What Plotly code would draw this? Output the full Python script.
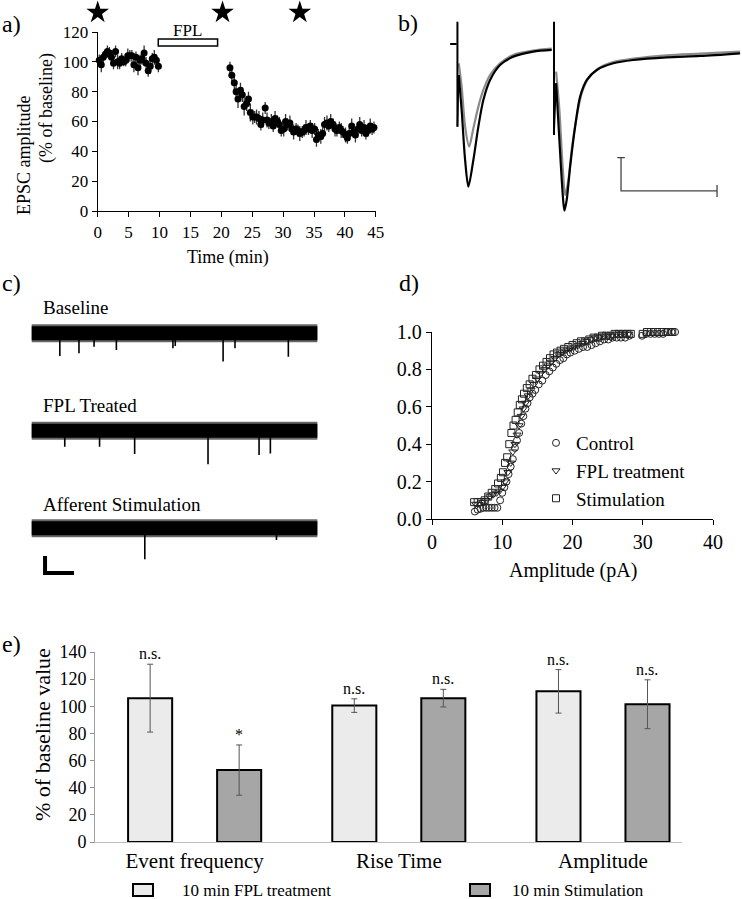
import plotly.graph_objects as go

W, H = 742, 899
FONT = "Liberation Serif, Times New Roman, serif"


def px(x):
    return x / W


def py(y):
    return 1 - y / H


# ---------------- Panel a: EPSC amplitude time course ----------------
base_time = [0.25, 0.58, 0.91, 1.24, 1.57, 1.9, 2.23, 2.56, 2.89, 3.22, 3.55, 3.88, 4.21, 4.54, 4.87,
             5.2, 5.53, 5.86, 6.19, 6.52, 6.85, 7.18, 7.51, 7.84, 8.17, 8.5, 8.83, 9.16, 9.49, 9.82]
base_amp = [101, 98, 103, 105, 107, 106, 103, 99, 107, 100, 99, 102, 100, 101, 104,
            104, 104, 98, 103, 96, 101, 102, 106, 99, 94, 97, 102, 103, 101, 97]
base_err = [4, 5, 4, 3, 4, 4, 5, 4, 4, 5, 4, 4, 3, 4, 5, 4, 4, 5, 4, 5, 4, 4, 5, 4, 4, 5, 4, 5, 4, 4]

post_time = [21.4, 21.7, 22.1, 22.4, 22.7, 23.1, 23.4, 23.7, 24.1, 24.4, 24.7, 25.1, 25.4, 25.7, 26.1,
             26.4, 26.7, 27.1, 27.4, 27.7, 28.1, 28.4, 28.7, 29.1, 29.4, 29.7, 30.1, 30.4, 30.7, 31.1,
             31.4, 31.7, 32.1, 32.4, 32.7, 33.1, 33.4, 33.7, 34.1, 34.4, 34.7, 35.1, 35.4, 35.7, 36.1,
             36.4, 36.7, 37.1, 37.4, 37.7, 38.1, 38.4, 38.7, 39.1, 39.4, 39.7, 40.1, 40.4, 40.7, 41.1,
             41.4, 41.7, 42.1, 42.4, 42.7, 43.1, 43.4, 43.7, 44.1, 44.4, 44.7]
post_amp = [96, 91, 86, 80, 75, 81, 78, 70, 72, 75, 66, 63, 63, 63, 62,
            58, 61, 69, 61, 59, 60, 57, 62, 60, 58, 54, 55, 60, 58, 59,
            55, 53, 55, 54, 52, 53, 54, 56, 55, 57, 54, 55, 48, 51, 50,
            52, 58, 59, 57, 60, 58, 55, 54, 56, 54, 53, 51, 49, 52, 57,
            53, 51, 55, 58, 54, 56, 52, 54, 57, 55, 56]
post_err = [4, 4, 5, 5, 6, 5, 5, 6, 5, 5, 6, 5, 4, 5, 5, 4, 5, 4, 5, 4,
            5, 4, 5, 4, 5, 4, 5, 5, 4, 5, 4, 5, 4, 4, 5, 4, 4, 5, 4, 4,
            5, 4, 5, 4, 5, 4, 5, 5, 4, 5, 4, 5, 4, 4, 5, 4, 5, 4, 4, 5,
            4, 5, 4, 5, 4, 5, 4, 4, 5, 4, 4]
star_times = [0, 20.2, 32.7]
fpl_period = [9.8, 19.4]

# ---------------- Panel b: paired-pulse EPSC traces (ms, pA) ----------------
pre_t = [-3.6, -0.2]
pre_i = [0, 0]
artifact_t = [0.2, 50.5]
artifact_top = [67, 67]
artifact_bottom = [-248, -273]
b1_t = [0.9, 2.4, 4.2, 5.9, 8.5, 11.1, 13.7, 17.2, 22.4, 29.3, 39.7, 49.3]
b1_i = [-93, -198, -348, -428, -348, -248, -168, -108, -63, -38, -23, -18]
b2_t = [51.6, 53.3, 55.0, 55.9, 57.1, 58.9, 61.5, 64.1, 67.6, 72.8, 81.4, 91.8, 109.2, 126.6, 147.4]
b2_i = [-118, -288, -448, -500, -468, -368, -248, -158, -108, -78, -58, -48, -40, -36, -28]
g1_t = [0.9, 2.4, 4.2, 6.3, 8.5, 11.1, 13.7, 17.2, 22.4, 29.3, 39.7, 49.3]
g1_i = [-58, -128, -248, -308, -253, -188, -138, -93, -58, -33, -20, -14]
g2_t = [51.6, 53.3, 55.0, 56.3, 58.0, 59.7, 62.3, 64.9, 68.4, 73.6, 81.4, 91.8, 109.2, 126.6, 147.4]
g2_i = [-83, -198, -368, -453, -408, -318, -218, -148, -103, -73, -54, -44, -34, -29, -23]
b_scale_ms, b_scale_pA = 50, 100
b_scale_origin = (85.4, -441)

# ---------------- Panel c: spontaneous event recordings (s, pA) ----------------
c_labels = ["Baseline", "FPL Treated", "Afferent Stimulation"]
trace_duration = 9.85
base_spike_t = [0.97, 1.63, 2.15, 2.92, 4.87, 4.95, 6.6, 7.01, 8.85]
base_spike_amp = [-26.7, -23.5, -15.7, -19.6, -17.6, -15.0, -33.3, -17.6, -27.5]
fpl_spike_t = [1.14, 2.34, 3.55, 6.08, 7.84, 8.23]
fpl_spike_amp = [-18.8, -18.8, -27.5, -39.6, -28.6, -26.7]
aff_spike_t = [3.9, 8.44]
aff_spike_amp = [-36.5, -13.7]
c_scale_s, c_scale_pA = 1, 20
c_scale_origin = (0.46, -52.6)

# ---------------- Panel d: cumulative amplitude distributions ----------------
control_pts = [(6.1, 0.04), (6.5, 0.05), (6.9, 0.055), (7.3, 0.06), (7.7, 0.06), (8.1, 0.06), (8.5, 0.06),
               (8.9, 0.06), (9.3, 0.06), (9.7, 0.10), (10.0, 0.14), (10.3, 0.17), (10.6, 0.20), (10.9, 0.24),
               (11.2, 0.28), (11.5, 0.32), (11.8, 0.38), (12.1, 0.42), (12.4, 0.46), (12.7, 0.51), (13.0, 0.55),
               (13.3, 0.59), (13.6, 0.62), (13.9, 0.65), (14.3, 0.67), (14.7, 0.69), (15.2, 0.72), (15.7, 0.74),
               (16.2, 0.77), (16.7, 0.79), (17.2, 0.81), (17.7, 0.83), (18.2, 0.85), (18.7, 0.86), (19.2, 0.88),
               (19.7, 0.89), (20.3, 0.90), (20.9, 0.91), (21.5, 0.92), (22.1, 0.92), (22.7, 0.93), (23.3, 0.94),
               (23.9, 0.95), (24.5, 0.96), (25.1, 0.96), (25.7, 0.97), (26.3, 0.97), (26.9, 0.97), (27.5, 0.97),
               (28.1, 0.98), (29.9, 0.98), (30.5, 0.99), (31.1, 0.99), (31.7, 0.99), (32.3, 0.99), (32.9, 0.99),
               (33.5, 1.0), (34.1, 1.0), (34.6, 1.0)]
fpl_pts = [(6.2, 0.08), (6.7, 0.08), (7.2, 0.09), (7.7, 0.10), (8.2, 0.12), (8.7, 0.13), (9.2, 0.14),
           (9.6, 0.15), (10.0, 0.17), (10.4, 0.20), (10.8, 0.25), (11.2, 0.30), (11.5, 0.36), (11.8, 0.40),
           (12.1, 0.45), (12.4, 0.50), (12.7, 0.55), (13.0, 0.59), (13.3, 0.62), (13.7, 0.66), (14.1, 0.69),
           (14.5, 0.72), (15.0, 0.75), (15.5, 0.78), (16.0, 0.80), (16.5, 0.82), (17.0, 0.84), (17.5, 0.86),
           (18.0, 0.88), (18.5, 0.89), (19.0, 0.90), (19.6, 0.91), (20.2, 0.92), (20.8, 0.93), (21.4, 0.94),
           (22.0, 0.95), (22.6, 0.96), (23.2, 0.97), (23.8, 0.97), (24.4, 0.98), (25.0, 0.98), (25.6, 0.98),
           (26.2, 0.99), (26.8, 0.99), (27.4, 0.99), (28.0, 0.99)]
stim_pts = [(6.0, 0.09), (6.5, 0.09), (7.0, 0.09), (7.5, 0.10), (8.0, 0.12), (8.5, 0.14), (9.0, 0.16),
            (9.4, 0.19), (9.8, 0.22), (10.1, 0.25), (10.4, 0.30), (10.7, 0.33), (11.0, 0.40), (11.3, 0.46),
            (11.6, 0.50), (11.9, 0.53), (12.2, 0.57), (12.5, 0.61), (12.8, 0.64), (13.1, 0.67), (13.5, 0.70),
            (13.9, 0.72), (14.3, 0.75), (14.8, 0.77), (15.3, 0.80), (15.8, 0.82), (16.3, 0.84), (16.8, 0.86),
            (17.3, 0.88), (17.8, 0.89), (18.3, 0.90), (18.8, 0.91), (19.4, 0.92), (20.0, 0.93), (20.6, 0.94),
            (21.2, 0.95), (21.8, 0.95), (22.4, 0.96), (23.0, 0.97), (23.6, 0.97), (24.2, 0.98), (24.8, 0.98),
            (25.4, 0.98), (26.0, 0.99), (26.6, 0.99), (27.2, 0.99), (27.8, 0.99), (28.3, 0.99), (30.0, 0.99),
            (30.6, 1.0), (31.2, 1.0), (31.8, 1.0), (32.4, 1.0), (33.0, 1.0), (33.6, 1.0), (34.2, 1.0)]

# ---------------- Panel e: % of baseline bars ----------------
categories = ["Event frequency", "Rise Time", "Amplitude"]
fpl_mean = [106, 100.5, 111]
fpl_sem = [25, 5, 16]
fpl_sig = ["n.s.", "n.s.", "n.s."]
stim_mean = [53, 106, 101.5]
stim_sem = [18.5, 6.5, 18]
stim_sig = ["*", "n.s.", "n.s."]
legend_e = ["10 min FPL treatment", "10 min Stimulation"]

LIGHT = "#ebebeb"
DARK = "#a6a6a6"

fig = go.Figure()

# ---- panel a traces
for t, a, e in [(base_time, base_amp, base_err), (post_time, post_amp, post_err)]:
    fig.add_trace(go.Scatter(
        x=t, y=a, mode="markers", xaxis="x", yaxis="y", showlegend=False,
        marker=dict(size=7, color="black"), cliponaxis=False,
        error_y=dict(type="data", array=e, color="#333", thickness=1.3, width=0)))
# stars: drawn on a thin hidden axis strip above panel a, sharing its time axis
fig.add_trace(go.Scatter(
    x=star_times, y=[0.5] * len(star_times), mode="markers", xaxis="x", yaxis="y8",
    showlegend=False, cliponaxis=False,
    marker=dict(symbol="star", size=17, color="black")))

# ---- panel b traces
for tt, ii in [(g1_t, g1_i), (g2_t, g2_i)]:
    fig.add_trace(go.Scatter(x=tt, y=ii, mode="lines", xaxis="x2", yaxis="y2", showlegend=False,
                             line=dict(color="#8a8a8a", width=2.2, shape="spline", smoothing=0.8)))
for tt, ii in [(b1_t, b1_i), (b2_t, b2_i)]:
    fig.add_trace(go.Scatter(x=tt, y=ii, mode="lines", xaxis="x2", yaxis="y2", showlegend=False,
                             line=dict(color="black", width=2.2, shape="spline", smoothing=0.8)))
fig.add_trace(go.Scatter(x=pre_t, y=pre_i, mode="lines", xaxis="x2", yaxis="y2", showlegend=False,
                         line=dict(color="black", width=2)))
art_x, art_y = [], []
for t, top, bot in zip(artifact_t, artifact_top, artifact_bottom):
    art_x += [t, t, None]
    art_y += [top, bot, None]
fig.add_trace(go.Scatter(x=art_x, y=art_y, mode="lines", xaxis="x2", yaxis="y2", showlegend=False,
                         line=dict(color="black", width=2)))
conn_x, conn_y = [], []
for t, bot, tt, ii in zip(artifact_t, artifact_bottom, [b1_t, b2_t], [b1_i, b2_i]):
    conn_x += [t, tt[0], None]
    conn_y += [bot, ii[0], None]
fig.add_trace(go.Scatter(x=conn_x, y=conn_y, mode="lines", xaxis="x2", yaxis="y2", showlegend=False,
                         line=dict(color="black", width=1.5)))
t0, i0 = b_scale_origin
fig.add_trace(go.Scatter(
    x=[t0 - 2, t0 + 2, None, t0, t0, t0 + b_scale_ms, None, t0 + b_scale_ms, t0 + b_scale_ms],
    y=[i0 + b_scale_pA, i0 + b_scale_pA, None, i0 + b_scale_pA, i0, i0, None, i0 + 18, i0 - 18],
    mode="lines", xaxis="x2", yaxis="y2", showlegend=False, line=dict(color="#444", width=1.3)))

# ---- panel c traces
c_axes = ["y3", "y4", "y5"]
c_spikes = [(base_spike_t, base_spike_amp), (fpl_spike_t, fpl_spike_amp), (aff_spike_t, aff_spike_amp)]
for yax, (st, sa) in zip(c_axes, c_spikes):
    fig.add_trace(go.Scatter(x=[0, trace_duration], y=[0, 0], mode="lines", xaxis="x3", yaxis=yax,
                             showlegend=False, line=dict(color="rgba(0,0,0,0.6)", width=18)))
    fig.add_trace(go.Scatter(x=[0, trace_duration], y=[0, 0], mode="lines", xaxis="x3", yaxis=yax,
                             showlegend=False, line=dict(color="black", width=14)))
    sx, sy = [], []
    for t, a in zip(st, sa):
        sx += [t, t, None]
        sy += [0, a, None]
    fig.add_trace(go.Scatter(x=sx, y=sy, mode="lines", xaxis="x3", yaxis=yax, showlegend=False,
                             line=dict(color="black", width=1.6)))
ct0, ci0 = c_scale_origin
fig.add_trace(go.Scatter(x=[ct0, ct0, ct0 + c_scale_s], y=[ci0 + c_scale_pA, ci0, ci0], mode="lines",
                         xaxis="x3", yaxis="y5", showlegend=False, line=dict(color="black", width=4)))

# ---- panel d traces
for name, pts, sym, grp in [("Control", control_pts, "circle-open", "g1"),
                            ("FPL treatment", fpl_pts, "triangle-down-open", "g2"),
                            ("Stimulation", stim_pts, "square-open", "g3")]:
    xs, ys = zip(*pts)
    fig.add_trace(go.Scatter(x=list(xs), y=list(ys), mode="markers", name=name, xaxis="x6", yaxis="y6",
                             legendgroup=grp, cliponaxis=False,
                             marker=dict(symbol=sym, size=7, color="#222", line=dict(width=1, color="#222"))))

# ---- panel e bars
BARGAP = 0.128
xs_e = list(range(len(categories)))
fig.add_trace(go.Bar(x=xs_e, y=fpl_mean, name=legend_e[0], xaxis="x7", yaxis="y7", showlegend=False,
                     marker=dict(color=LIGHT, line=dict(color="black", width=2)),
                     error_y=dict(type="data", array=fpl_sem, color="#555", thickness=1, width=3)))
fig.add_trace(go.Bar(x=xs_e, y=stim_mean, name=legend_e[1], xaxis="x7", yaxis="y7", showlegend=False,
                     marker=dict(color=DARK, line=dict(color="black", width=2)),
                     error_y=dict(type="data", array=stim_sem, color="#555", thickness=1, width=3)))


def note(text, x, y, size, xref="paper", yref="paper", xanchor="center", yanchor="middle", angle=0):
    return dict(x=x, y=y, xref=xref, yref=yref, text=text, showarrow=False, xanchor=xanchor,
                yanchor=yanchor, textangle=angle, font=dict(size=size, family=FONT, color="black"))


annotations = []
off = (1 - BARGAP) / 4
for i in xs_e:
    annotations.append(note(fpl_sig[i], i - off, fpl_mean[i] + fpl_sem[i], 16, "x7", "y7", yanchor="bottom"))
    annotations.append(note(stim_sig[i], i + off, stim_mean[i] + stim_sem[i], 16, "x7", "y7", yanchor="bottom"))

for lab, x, y in [("a)", 0, 24), ("b)", 396, 23), ("c)", 0, 283), ("d)", 397, 283), ("e)", 0, 644)]:
    annotations.append(note(lab, px(x), py(y), 24, xanchor="left"))

annotations += [
    note("EPSC amplitude", px(24), py(155), 18, angle=-90),
    note("(% of baseline)", px(47), py(108), 18, angle=-90),
    note("Time (min)", px(228), py(257), 18),
    note("FPL", sum(fpl_period) / 2, py(30), 17, xref="x"),
]
for lab, y in zip(c_labels, [307, 405, 504]):
    annotations.append(note(lab, px(41), py(y), 19, xanchor="left"))
annotations.append(note("Amplitude (pA)", px(573), py(570), 20))
annotations.append(note("% of baseline value", px(42), py(735), 22, angle=-90))
annotations.append(note(legend_e[0], px(180), py(890), 17, xanchor="left"))
annotations.append(note(legend_e[1], px(510), py(890), 17, xanchor="left"))

shapes = [
    dict(type="rect", xref="x", yref="y", x0=fpl_period[0], x1=fpl_period[1], y0=110.6, y1=115.3,
         line=dict(color="black", width=1.5), fillcolor="white"),
    dict(type="rect", xref="paper", yref="paper", x0=px(133), x1=px(153), y0=py(896), y1=py(884),
         line=dict(color="black", width=2), fillcolor=LIGHT),
    dict(type="rect", xref="paper", yref="paper", x0=px(470), x1=px(490), y0=py(896), y1=py(884),
         line=dict(color="black", width=2), fillcolor=DARK),
]

axis_common = dict(showgrid=False, zeroline=False, ticks="outside", linecolor="black", tickcolor="black",
                   showline=True, linewidth=1.3, ticklen=5, automargin=False)
hidden = dict(visible=False, automargin=False, showgrid=False, zeroline=False)

fig.update_layout(
    template="none",
    width=W, height=H, margin=dict(l=0, r=0, t=0, b=0, pad=0, autoexpand=False),
    paper_bgcolor="white", plot_bgcolor="white",
    font=dict(family=FONT, color="black"),
    barmode="group", bargap=BARGAP, bargroupgap=0.505,
    xaxis=dict(domain=[px(97.7), px(375.8)], range=[0, 45], tickvals=list(range(0, 46, 5)),
               anchor="y", tickfont=dict(size=17), **axis_common),
    yaxis=dict(domain=[py(211), py(32)], range=[0, 120], dtick=20, anchor="x",
               tickfont=dict(size=17), **axis_common),
    yaxis8=dict(domain=[py(24), py(1)], range=[0, 1], anchor="x", **hidden),
    xaxis2=dict(domain=[px(443.6), 1], range=[-7, 148.4], anchor="y2", **hidden),
    yaxis2=dict(domain=[py(217.3), py(17.3)], range=[-520, 80], anchor="x2", **hidden),
    xaxis3=dict(domain=[px(2.7), px(321.7)], range=[-1, 10], anchor="y3", **hidden),
    yaxis3=dict(domain=[py(371.55), py(312.05)], range=[-45, 25], anchor="x3", **hidden),
    yaxis4=dict(domain=[py(468.95), py(409.45)], range=[-45, 25], anchor="x3", **hidden),
    yaxis5=dict(domain=[py(579.3), py(507.05)], range=[-60, 25], anchor="x3", **hidden),
    xaxis6=dict(domain=[px(432), px(713)], range=[0, 40], dtick=10, anchor="y6",
                tickfont=dict(size=20), **axis_common),
    yaxis6=dict(domain=[py(519), py(332)], range=[0, 1], dtick=0.2, tickformat=".1f", anchor="x6",
                tickfont=dict(size=20), **axis_common),
    xaxis7=dict(domain=[px(95), px(682)], range=[-0.488, 2.387], tickvals=xs_e, ticktext=categories,
                anchor="y7", showgrid=False, zeroline=False, showline=True, linecolor="#bdbdbd",
                linewidth=1.3, ticks="", tickfont=dict(size=21), automargin=False),
    yaxis7=dict(domain=[py(842), py(652)], range=[0, 140], dtick=20, anchor="x7", showgrid=False,
                zeroline=False, showline=True, linecolor="#a0a0a0", linewidth=1, ticks="outside",
                ticklen=4, tickcolor="#909090", tickfont=dict(size=18), automargin=False),
    legend=dict(x=px(536), y=py(424), xanchor="left", yanchor="top", bgcolor="rgba(0,0,0,0)",
                font=dict(size=19, family=FONT), tracegroupgap=0),
    annotations=annotations,
    shapes=shapes,
)

fig.write_html(
    "out.html",
    config={"displayModeBar": False},
    post_script="document.body.style.margin='0';document.body.style.padding='0';"
                "document.documentElement.style.overflow='hidden';",
)
